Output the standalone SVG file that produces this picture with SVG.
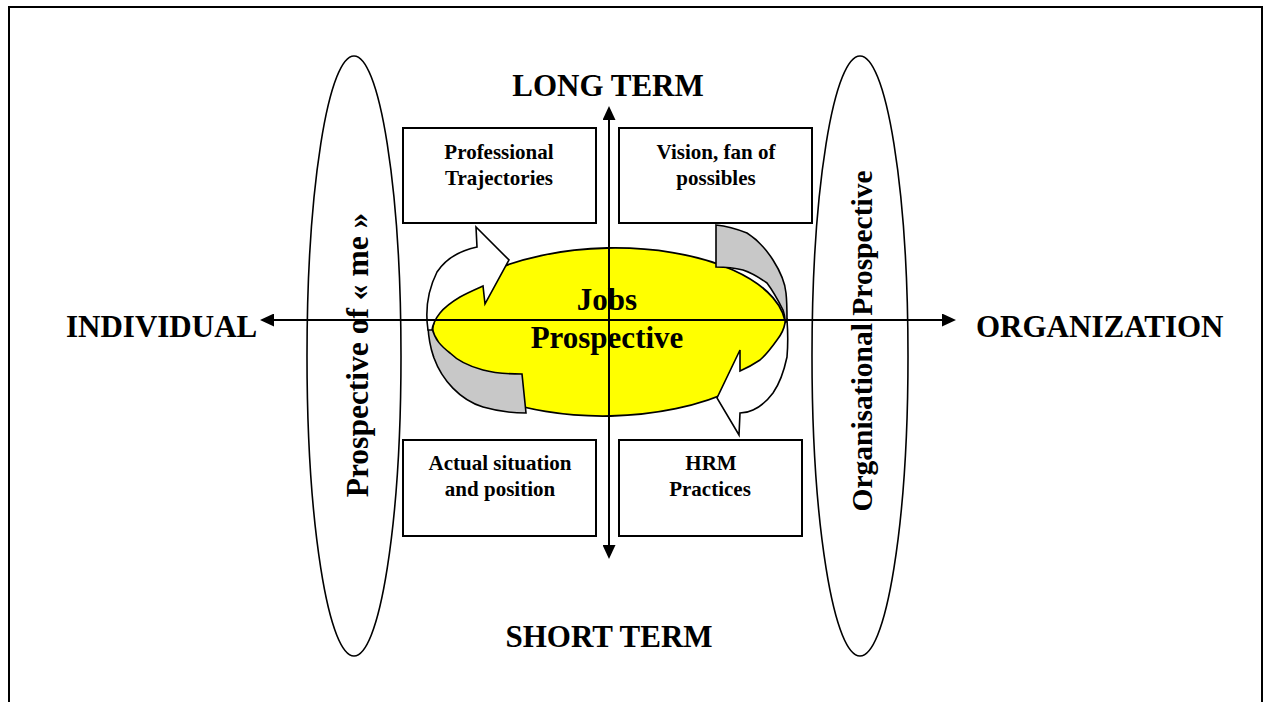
<svg xmlns="http://www.w3.org/2000/svg" width="1269" height="702" viewBox="0 0 1269 702">
  <style>
    .t { font-family: "Liberation Serif", "Times New Roman", serif; font-weight: bold; fill: #000; }
    .big { font-size: 31px; }
    .box-label { font-size: 21px; text-anchor: middle; }
    .box { fill: #fff; stroke: #000; stroke-width: 2; }
    .band { fill: none; stroke: #000; stroke-width: 1.6; }
    .axis { stroke: #000; stroke-width: 2; fill: none; marker-start: url(#head); marker-end: url(#head); }
    .cyc-white { fill: #fff; stroke: #000; stroke-width: 1.6; stroke-linejoin: miter; }
    .cyc-grey { fill: #c8c8c8; stroke: #000; stroke-width: 1.6; stroke-linejoin: miter; }
  </style>
  <defs>
    <marker id="head" viewBox="0 0 14 13" refX="0" refY="6.5" markerWidth="14" markerHeight="13" markerUnits="userSpaceOnUse" orient="auto-start-reverse">
      <path d="M0,0 L14,6.5 L0,13 Z" fill="#000"/>
    </marker>
  </defs>

  <rect width="1269" height="702" fill="#fff"/>

  <!-- frame, open at the bottom -->
  <path d="M9,702 V7 H1262 V702" fill="none" stroke="#000" stroke-width="2"/>

  <!-- side perspectives -->
  <g id="individual-perspective">
    <ellipse class="band" cx="354" cy="356" rx="47" ry="300"/>
    <text class="t" font-size="31.5" text-anchor="middle" transform="translate(368,355) rotate(-90)">Prospective of « me »</text>
  </g>
  <g id="organisational-perspective">
    <ellipse class="band" cx="860" cy="356" rx="48" ry="300"/>
    <text class="t" font-size="29.5" text-anchor="middle" transform="translate(872,341) rotate(-90)">Organisational Prospective</text>
  </g>

  <!-- quadrant boxes -->
  <g id="professional-trajectories">
    <rect class="box" x="403" y="128" width="193" height="95"/>
    <text class="t box-label" x="499" y="159">Professional</text>
    <text class="t box-label" x="499" y="185">Trajectories</text>
  </g>
  <g id="vision">
    <rect class="box" x="619" y="128" width="193" height="95"/>
    <text class="t box-label" x="716" y="159">Vision, fan of</text>
    <text class="t box-label" x="716" y="185">possibles</text>
  </g>
  <g id="actual-situation">
    <rect class="box" x="403" y="440" width="193" height="96"/>
    <text class="t box-label" x="500" y="470">Actual situation</text>
    <text class="t box-label" x="500" y="496">and position</text>
  </g>
  <g id="hrm-practices">
    <rect class="box" x="619" y="440" width="183" height="96"/>
    <text class="t box-label" x="711" y="470">HRM</text>
    <text class="t box-label" x="710" y="496">Practices</text>
  </g>

  <!-- central hub with its cycle -->
  <g id="jobs-prospective">
    <ellipse cx="609" cy="332" rx="177" ry="84" fill="#ffff00" stroke="#000" stroke-width="1.8" transform="rotate(-1.2 609 332)"/>
    <g id="cycle">
      <path class="cyc-grey" d="M428,327 C429,345 432,352 434,358 C442,380 460,400 483,407 C497,411 512,413 526,413 L522,374 C505,374 494,373 483,370 C468,366 457,360 450,353 C441,346 435,340 432,328 Z"/>
      <path class="cyc-white" d="M428,330 C425,310 428,290 437,272 C445,260 458,251 477,247 L476,227 L509,260 L485,304 L483,286 C474,290 467,293 460,297 C450,303 444,308 440,313 C436,318 433,323 432,330 Z"/>
      <path class="cyc-grey" d="M716,225 C726,226 737,229 747,233 C758,240 766,249 773,260 C780,271 785,282 786,293 C787,302 787,312 787,320 L785,320 C785,316 784,313 783,310 C778,300 773,291 767,283 C760,278 752,273 743,270 C735,268 726,267 716,267 Z"/>
      <path class="cyc-white" d="M787,320 C788,333 788,345 787,357 C784,371 780,383 773,393 C767,401 760,407 753,410 C749,412 745,413 740,413 L739,435 L717,398 L740,350 L740,371 C747,368 754,364 760,360 C767,354 772,347 777,340 C781,335 784,329 785,323 Z"/>
    </g>
    <text class="t big" x="607" y="310" text-anchor="middle">Jobs</text>
    <text class="t big" x="607" y="348" text-anchor="middle">Prospective</text>
  </g>

  <!-- axes -->
  <g id="connectors">
    <line class="axis" x1="274" y1="320" x2="942" y2="320"/>
    <line class="axis" x1="609" y1="120" x2="609" y2="545"/>
  </g>

  <!-- axis labels -->
  <g id="axis-labels">
    <text id="long-term" class="t big" x="608" y="96" text-anchor="middle">LONG TERM</text>
    <text id="short-term" class="t big" x="609" y="647" text-anchor="middle">SHORT TERM</text>
    <text id="individual" class="t big" x="66" y="337">INDIVIDUAL</text>
    <text id="organization" class="t big" x="976" y="337">ORGANIZATION</text>
  </g>
</svg>
